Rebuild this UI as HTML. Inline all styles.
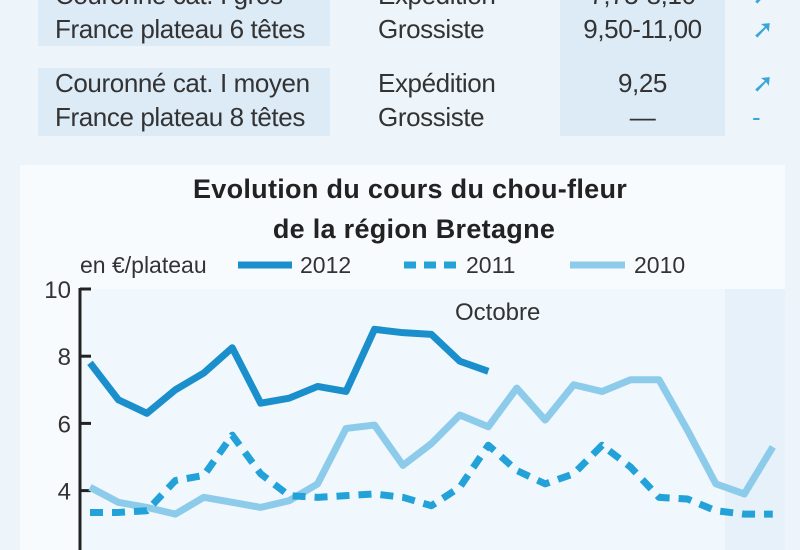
<!DOCTYPE html>
<html><head><meta charset="utf-8"><style>
body{margin:0;width:800px;height:550px;overflow:hidden;background:#edf5fb;font-family:"Liberation Sans",sans-serif;color:#333}
.cell{position:absolute;font-size:26px;line-height:34px;letter-spacing:-0.4px;white-space:nowrap}
</style></head><body>
<div style="position:absolute;left:0;top:0;width:800px;height:140px">
 <div style="position:absolute;left:38px;top:0;width:292px;height:46px;background:#ddebf7"></div>
 <div style="position:absolute;left:560px;top:0;width:165px;height:46px;background:#ddebf7"></div>
 <div style="position:absolute;left:38px;top:68px;width:292px;height:68px;background:#ddebf7"></div>
 <div style="position:absolute;left:560px;top:46px;width:165px;height:90px;background:#ddebf7"></div>
 <div class="cell" style="left:55px;top:-22px">Couronné cat. I gros<br>France plateau 6 têtes</div>
 <div class="cell" style="left:378px;top:-22px">Expédition<br>Grossiste</div>
 <div class="cell" style="left:560px;width:165px;text-align:center;top:-22px">7,75-8,10<br>9,50-11,00</div>
 <div class="cell" style="left:752px;top:-22px;color:#3aa6d8">➚<br>➚</div>
 <div class="cell" style="left:55px;top:66px">Couronné cat. I moyen<br>France plateau 8 têtes</div>
 <div class="cell" style="left:378px;top:66px">Expédition<br>Grossiste</div>
 <div class="cell" style="left:560px;width:165px;text-align:center;top:66px">9,25<br>—</div>
 <div class="cell" style="left:752px;top:66px;color:#3aa6d8">➚<br>-</div>
</div>
<svg width="800" height="550" style="position:absolute;left:0;top:0">
 <rect x="20" y="165" width="765" height="385" fill="#f8fbfe"/>
 <rect x="82" y="289" width="643" height="261" fill="#f0f7fd"/>
 <rect x="725" y="289" width="60" height="261" fill="#e6f1fa"/>
 <text x="410" y="198" text-anchor="middle" font-size="27" font-weight="bold" letter-spacing="0.3" fill="#222">Evolution du cours du chou-fleur</text>
 <text x="414" y="238" text-anchor="middle" font-size="27" font-weight="bold" letter-spacing="0.3" fill="#222">de la région Bretagne</text>
 <text x="80" y="273" font-size="23" fill="#333">en €/plateau</text>
 <line x1="238" y1="265" x2="292" y2="265" stroke="#1a8fcc" stroke-width="7"/>
 <text x="300" y="273" font-size="23" fill="#333">2012</text>
 <line x1="404" y1="265" x2="458" y2="265" stroke="#22a2d8" stroke-width="7" stroke-dasharray="12,8"/>
 <text x="466" y="273" font-size="23" fill="#333">2011</text>
 <line x1="570" y1="265" x2="625" y2="265" stroke="#8ccbea" stroke-width="7"/>
 <text x="634" y="273" font-size="23" fill="#333">2010</text>
 <text x="455" y="320" font-size="24" fill="#333">Octobre</text>
 <g id="axis"></g><g id="series"></g>
</svg>
<script>
const yTicks=[10,8,6,4,2];
const s2012=[7.8,6.7,6.3,7.0,7.5,8.25,6.6,6.75,7.1,6.95,8.8,8.7,8.65,7.85,7.55];
const s2011=[3.35,3.35,3.4,4.3,4.45,5.65,4.5,3.85,3.8,3.85,3.9,3.8,3.55,4.1,5.35,4.6,4.2,4.5,5.35,4.7,3.8,3.75,3.4,3.3,3.3];
const s2010=[4.1,3.65,3.5,3.3,3.8,3.65,3.5,3.7,4.2,5.85,5.95,4.75,5.4,6.25,5.9,7.05,6.1,7.15,6.95,7.3,7.3,5.8,4.2,3.9,5.3];
const NS='http://www.w3.org/2000/svg';
function x(i){return 90+i*28.45;}
function y(v){return 289+(10-v)*33.6;}
const ax=document.getElementById('axis');
const al=document.createElementNS(NS,'line');


al.setAttribute('x1',80);al.setAttribute('x2',80);al.setAttribute('y1',288);al.setAttribute('y2',550);
al.setAttribute('stroke','#222');al.setAttribute('stroke-width',3);ax.appendChild(al);
yTicks.forEach(t=>{
 const l=document.createElementNS(NS,'line');
 
 
 l.setAttribute('x1',80);l.setAttribute('x2',91);l.setAttribute('y1',y(t));l.setAttribute('y2',y(t));
 l.setAttribute('stroke','#222');l.setAttribute('stroke-width',3);ax.appendChild(l);
 const tx=document.createElementNS(NS,'text');
 
 
 tx.setAttribute('x',71);tx.setAttribute('y',y(t)+9);tx.setAttribute('text-anchor','end');
 tx.setAttribute('font-size','24');tx.setAttribute('fill','#333');tx.textContent=t;ax.appendChild(tx);
});
const sg=document.getElementById('series');
function draw(data,name,color,dash){
 const p=document.createElementNS(NS,'polyline');
 
 
 p.setAttribute('points',data.map((v,i)=>x(i)+','+y(v)).join(' '));
 p.setAttribute('fill','none');p.setAttribute('stroke',color);p.setAttribute('stroke-width',7);
 p.setAttribute('stroke-linejoin','round');
 if(dash)p.setAttribute('stroke-dasharray',dash);
 sg.appendChild(p);
}
draw(s2010,'line-2010','#8ccbea');
draw(s2011,'line-2011','#22a2d8','13,9');
draw(s2012,'line-2012','#1a8fcc');
</script>
</body></html>
